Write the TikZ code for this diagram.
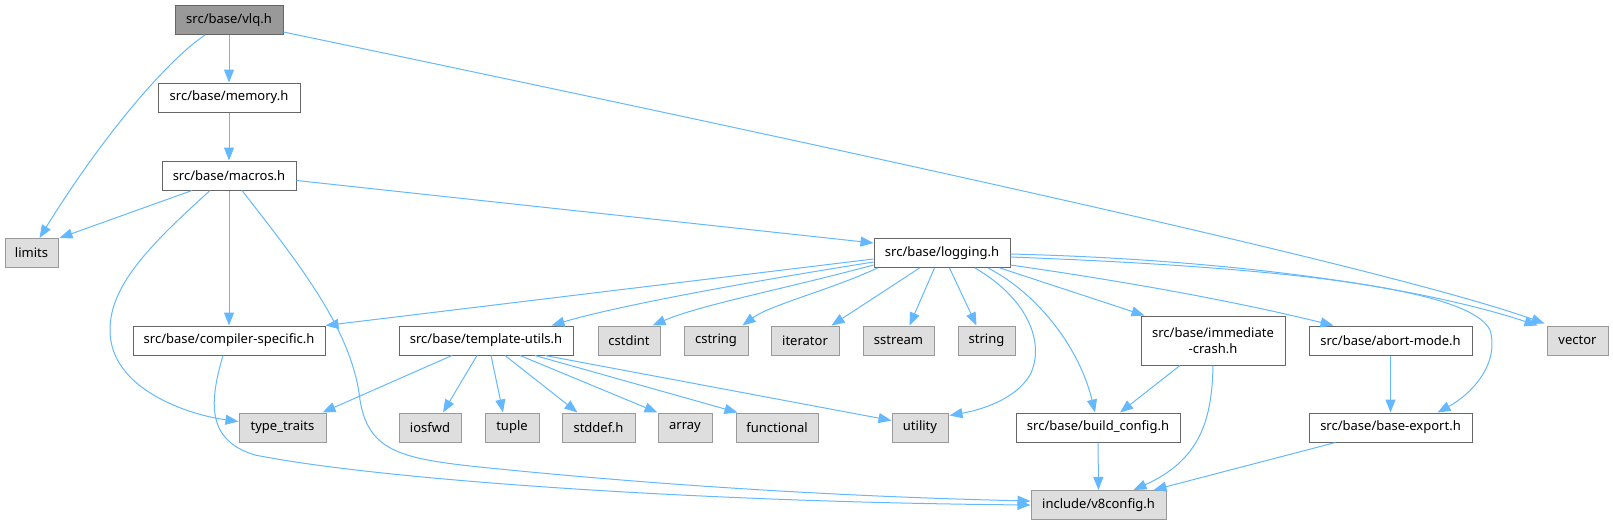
\documentclass[tikz,border=0pt]{standalone}
\usepackage{fontspec}
\setmainfont{Noto Sans}
\usetikzlibrary{arrows.meta,calc}
\definecolor{edgeblue}{HTML}{63B8FF}
\definecolor{grayforty}{HTML}{666666}
\definecolor{graysixty}{HTML}{999999}
\definecolor{grayeightyseven}{HTML}{DEDEDE}
\tikzset{
  basebox/.style={rectangle, inner sep=0pt, minimum height=29pt, line width=1pt, font=\fontsize{13}{16}\selectfont, align=center},
  filebox/.style={basebox, draw=grayforty, fill=white},
  sysbox/.style={basebox, draw=graysixty, fill=grayeightyseven},
  rootbox/.style={basebox, draw=grayforty, fill=graysixty},
  edge/.style={draw=edgeblue, line width=1pt, -{Triangle[length=13pt,width=10pt]}, fill=none}
}
\begin{document}
\begin{tikzpicture}[x=1pt,y=-1pt]
\useasboundingbox (0,0) rectangle (1613,525);
% row 1-3
\node[rootbox, minimum width=108pt] (vlq) at (229,20) {src/base/vlq.h};
\node[filebox, minimum width=142pt] (memory) at (229,97.5) {src/base/memory.h};
\node[filebox, minimum width=134pt] (macros) at (229,175.5) {src/base/macros.h};
% row 4
\node[sysbox, minimum width=53pt] (limits) at (31.5,253) {limits};
\node[filebox, minimum width=136pt] (logging) at (942,253) {src/base/logging.h};
% row 5
\node[filebox, minimum width=192pt] (compiler) at (229,340.5) {src/base/compiler-specific.h};
\node[filebox, minimum width=174pt] (template) at (486,340.5) {src/base/template-utils.h};
\node[sysbox, minimum width=62pt] (cstdint) at (629,340.5) {cstdint};
\node[sysbox, minimum width=64pt] (cstring) at (716,340.5) {cstring};
\node[sysbox, minimum width=68pt] (iterator) at (805,340.5) {iterator};
\node[sysbox, minimum width=71pt] (sstream) at (898.5,340.5) {sstream};
\node[sysbox, minimum width=57pt] (string) at (986.5,340.5) {string};
\node[filebox, minimum width=144pt, minimum height=49pt] (immediate) at (1213,340.5) {src/base/immediate\\-crash.h};
\node[filebox, minimum width=163pt] (abort) at (1390.5,340.5) {src/base/abort-mode.h};
\node[sysbox, minimum width=61pt] (vector) at (1577.5,340.5) {vector};
% row 6
\node[sysbox, minimum width=87pt] (typetraits) at (282.5,427.5) {type\_traits};
\node[sysbox, minimum width=62pt] (iosfwd) at (430,427.5) {iosfwd};
\node[sysbox, minimum width=54pt] (tuple) at (512,427.5) {tuple};
\node[sysbox, minimum width=73pt] (stddef) at (598.5,427.5) {stddef.h};
\node[sysbox, minimum width=54pt] (array) at (685,427.5) {array};
\node[sysbox, minimum width=82pt] (functional) at (777,427.5) {functional};
\node[sysbox, minimum width=56pt] (utility) at (920,427.5) {utility};
\node[filebox, minimum width=164pt] (build) at (1098,427.5) {src/base/build\_config.h};
\node[filebox, minimum width=163pt] (baseexport) at (1390.5,427.5) {src/base/base-export.h};
% row 7
\node[sysbox, minimum width=135pt] (v8config) at (1098.5,505) {include/v8config.h};

% edges from vlq
\draw[edge] (vlq) -- (memory);
\draw[edge] ($(vlq.south)+(-24,0)$) .. controls (165,62) and (100,140) .. ($(limits.north)+(8,0)$);
\draw[edge] ($(vlq.east)+(0,12)$) .. controls (800,140) and (1380,265) .. ($(vector.north west)+(-2,-2)$);
% memory
\draw[edge] (memory) -- (macros);
% macros
\draw[edge] ($(macros.south)+(-37,0)$) -- ($(limits.north east)+(1,0)$);
\draw[edge] ($(macros.east)+(0,5)$) -- ($(logging.west)+(0,-10)$);
\draw[edge] ($(macros.south)+(-19,0)$) .. controls (150,245) and (110,285) .. (110,330) .. controls (110,390) and (190,415) .. ($(typetraits.west)+(0,-6)$);
\draw[edge] (macros) -- (compiler);
\draw[edge] ($(macros.south)+(13,0)$) .. controls (300,265) and (352,330) .. (360,400) .. controls (368,450) and (400,458) .. (470,466) .. controls (700,490) and (900,498) .. ($(v8config.west)+(0,-4)$);
% compiler-specific
\draw[edge] ($(compiler.south)+(-6,0)$) .. controls (210,400) and (205,440) .. (255,455) .. controls (380,480) and (700,502) .. (v8config.west);
% logging
\draw[edge] ($(logging.west)+(0,6)$) -- (compiler.north east);
\draw[edge] ($(logging.west)+(0,9)$) .. controls (760,280) and (620,305) .. ($(template.north east)+(-22,0)$);
\draw[edge] ($(logging.west)+(0,12)$) .. controls (780,290) and (700,305) .. ($(cstdint.north east)+(-8,0)$);
\draw[edge] ($(logging.south west)+(4,0)$) .. controls (830,290) and (770,305) .. ($(cstring.north east)+(-6,0)$);
\draw[edge] ($(logging.south west)+(46,0)$) -- ($(iterator.north east)+(-8,0)$);
\draw[edge] ($(logging.south west)+(61,0)$) -- ($(sstream.north)+(11,0)$);
\draw[edge] ($(logging.south west)+(76,0)$) -- ($(string.north)+(-10,0)$);
\draw[edge] ($(logging.south)+(33,0)$) .. controls (1030,300) and (1045,345) .. (1030,375) .. controls (1015,400) and (980,410) .. ($(utility.north east)+(1,3)$);
\draw[edge] ($(logging.south)+(46,0)$) .. controls (1040,295) and (1080,350) .. ($(build.north)+(-3,0)$);
\draw[edge] ($(logging.south)+(58,0)$) -- ($(immediate.north west)+(4,0)$);
\draw[edge] ($(logging.east)+(0,12)$) .. controls (1150,285) and (1250,305) .. ($(abort.north west)+(25,0)$);
\draw[edge] ($(logging.east)+(0,1)$) .. controls (1250,260) and (1430,290) .. ($(vector.north west)+(-9,0)$);
\draw[edge] ($(logging.east)+(0,4)$) .. controls (1300,268) and (1470,290) .. (1490,330) .. controls (1500,365) and (1470,395) .. ($(baseexport.north)+(47,0)$);
% template-utils
\draw[edge] ($(template.south)+(-34,0)$) -- ($(typetraits.north east)+(-4,0)$);
\draw[edge] ($(template.south)+(-9,0)$) -- ($(iosfwd.north)+(13,0)$);
\draw[edge] ($(template.south)+(5,0)$) -- ($(tuple.north)+(-9,0)$);
\draw[edge] ($(template.south)+(19,0)$) -- ($(stddef.north)+(-21,0)$);
\draw[edge] ($(template.south)+(34,0)$) -- (array.north west);
\draw[edge] ($(template.south)+(49,0)$) -- ($(functional.north west)+(2,0)$);
\draw[edge] ($(template.south)+(59,0)$) -- ($(utility.west)+(0,-7)$);
% immediate-crash
\draw[edge] ($(immediate.south)+(-33,0)$) -- ($(build.north)+(22,0)$);
\draw[edge] (immediate.south) .. controls (1212,420) and (1200,460) .. ($(v8config.north east)+(-33,0)$);
% abort-mode, build_config, base-export
\draw[edge] (abort) -- (baseexport);
\draw[edge] (build) -- (v8config);
\draw[edge] ($(baseexport.south)+(-55,0)$) -- ($(v8config.north east)+(-13,0)$);
\end{tikzpicture}
\end{document}
